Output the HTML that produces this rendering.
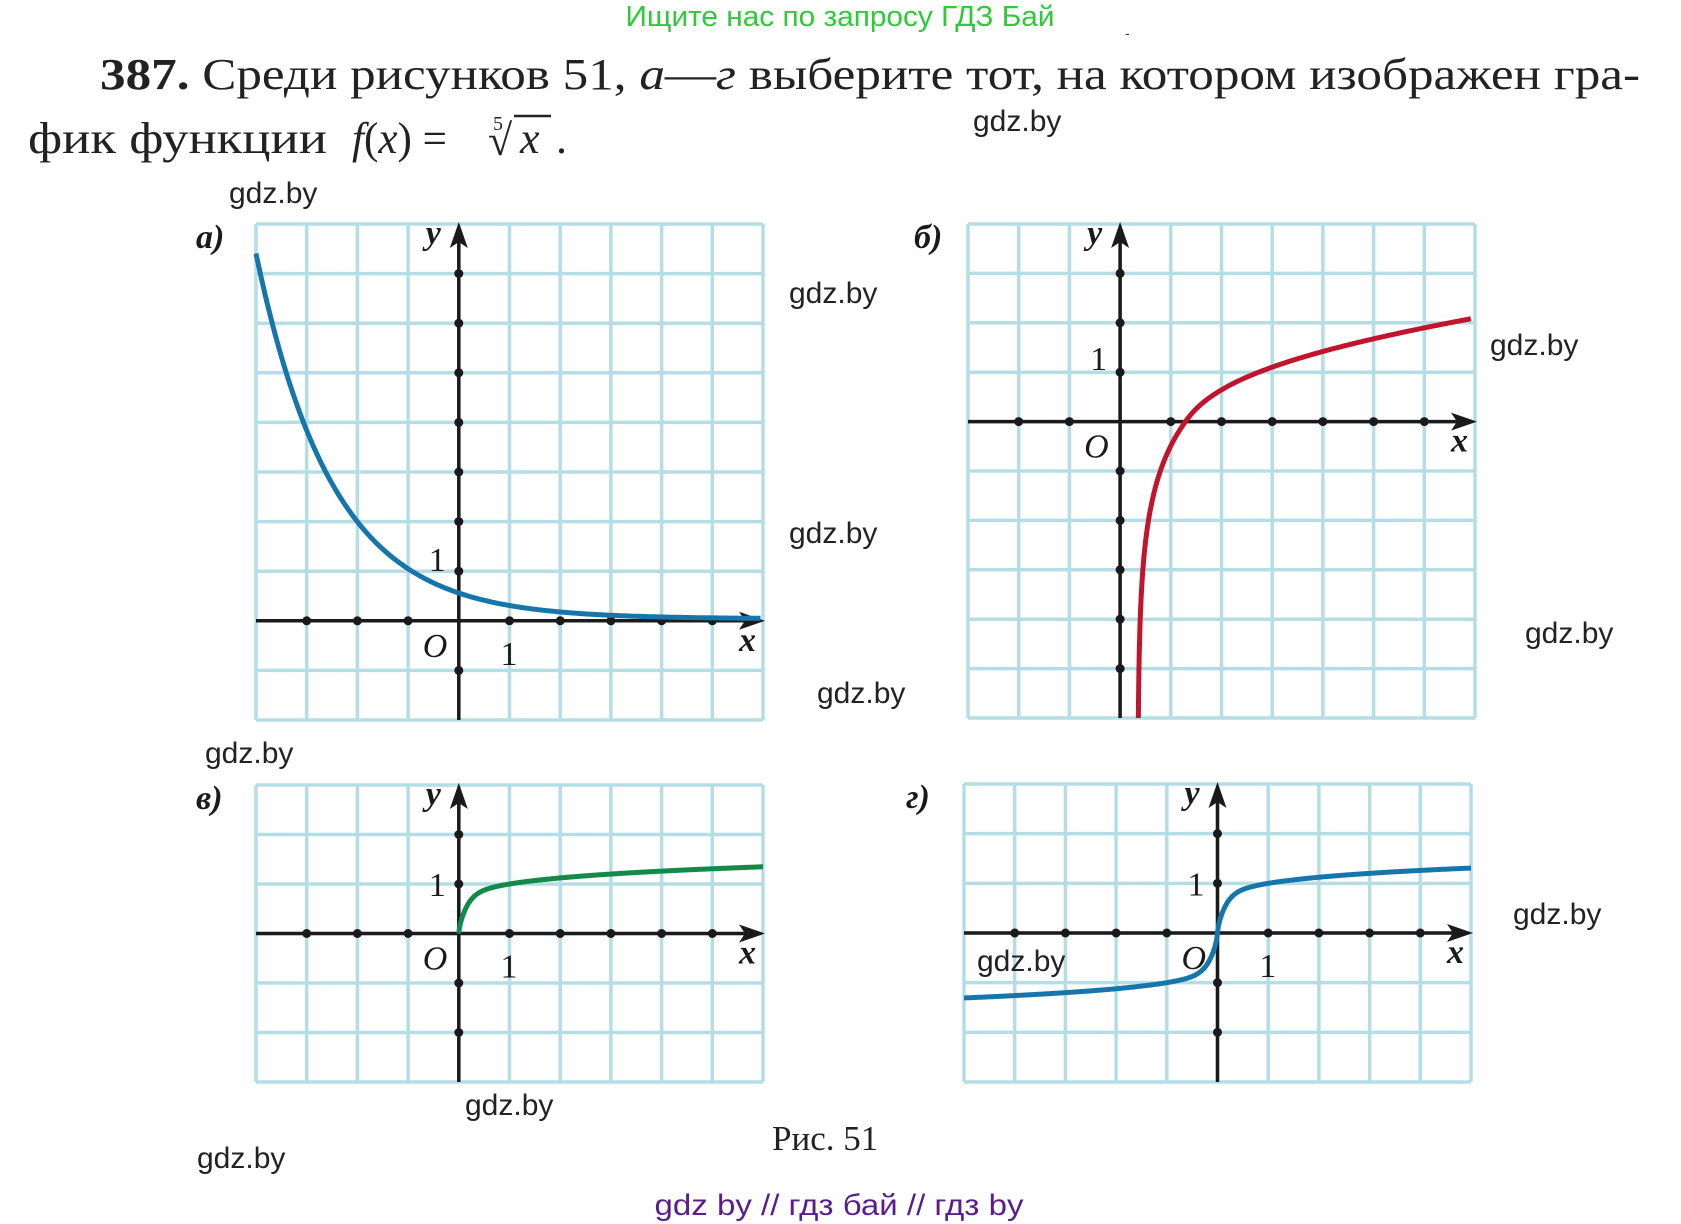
<!DOCTYPE html>
<html><head><meta charset="utf-8">
<style>
html,body{margin:0;padding:0;background:#fff;}
body{width:1681px;height:1224px;overflow:hidden;position:relative;}
svg{position:absolute;left:0;top:0;}
</style></head>
<body>
<svg id="s" width="1681" height="1224" viewBox="0 0 1681 1224" xmlns="http://www.w3.org/2000/svg">
<g font-family="Liberation Sans, sans-serif">
<text x="840" y="26" font-size="29" fill="#2fc93a" text-anchor="middle" textLength="429" lengthAdjust="spacingAndGlyphs">Ищите нас по запросу ГДЗ Бай</text>
<text x="1125" y="38" font-size="14" fill="#333">-</text>
</g>
<g font-family="Liberation Serif, serif" font-size="44" fill="#222">
<text x="100" y="89" textLength="1540" lengthAdjust="spacingAndGlyphs"><tspan font-weight="bold">387.</tspan> Среди рисунков 51, <tspan font-style="italic">а</tspan>—<tspan font-style="italic">г</tspan> выберите тот, на котором изображен гра-</text>
<text x="28" y="153" textLength="299" lengthAdjust="spacingAndGlyphs">фик функции</text>
<text x="352" y="153" textLength="95" lengthAdjust="spacingAndGlyphs"><tspan font-style="italic">f</tspan>(<tspan font-style="italic">x</tspan>) =</text>
<text x="493" y="130" font-size="20">5</text>
<text x="488" y="155">√</text>
<line x1="514" y1="116" x2="551" y2="116" stroke="#222" stroke-width="2.5"/>
<text x="520" y="153" font-style="italic">x</text>
<text x="556" y="153">.</text>
<text x="772" y="1150" font-size="35">Рис. 51</text>
</g>
<g id="charts"></g>
<g font-family="Liberation Sans, sans-serif" font-size="30" fill="#222">
<text x="229" y="203">gdz.by</text>
<text x="973" y="131">gdz.by</text>
<text x="789" y="303">gdz.by</text>
<text x="1490" y="355">gdz.by</text>
<text x="789" y="543">gdz.by</text>
<text x="1525" y="643">gdz.by</text>
<text x="817" y="703">gdz.by</text>
<text x="205" y="763">gdz.by</text>
<text x="977" y="971">gdz.by</text>
<text x="1513" y="924">gdz.by</text>
<text x="465" y="1115">gdz.by</text>
<text x="197" y="1168">gdz.by</text>
<text x="839" y="1215" fill="#5a1d8c" text-anchor="middle" textLength="369" lengthAdjust="spacingAndGlyphs">gdz by  //  гдз бай  //  гдз by</text>
</g>
</svg>
<script>
var NS="http://www.w3.org/2000/svg",G=document.getElementById('charts');
function el(t,a,txt){var e=document.createElementNS(NS,t);for(var k in a)e.setAttribute(k,a[k]);if(txt)e.textContent=txt;G.appendChild(e);return e;}
function panel(p){
 var cw=p.w/10,ch=p.h/p.rows,ox=p.x0+p.ax*cw,oy=p.y0+p.ay*ch;
 for(var i=0;i<=10;i++)el('line',{x1:p.x0+i*cw,y1:p.y0,x2:p.x0+i*cw,y2:p.y0+p.h,stroke:'#b5dde6','stroke-width':3.5});
 for(var j=0;j<=p.rows;j++)el('line',{x1:p.x0,y1:p.y0+j*ch,x2:p.x0+p.w,y2:p.y0+j*ch,stroke:'#b5dde6','stroke-width':3.5});
 el('line',{x1:p.x0,y1:oy,x2:p.x0+p.w-4,y2:oy,stroke:'#1a1a1a','stroke-width':3.5});
 el('line',{x1:ox,y1:p.y0+p.h,x2:ox,y2:p.y0+6,stroke:'#1a1a1a','stroke-width':3.5});
 var ex=p.x0+p.w+2;
 el('path',{d:'M'+ex+','+oy+' l-26,-9 l6,9 l-6,9 z',fill:'#1a1a1a'});
 el('path',{d:'M'+ox+','+(p.y0-2)+' l-9,26 l9,-6 l9,6 z',fill:'#1a1a1a'});
 for(var i=1;i<10;i++)if(i!=p.ax)el('circle',{cx:p.x0+i*cw,cy:oy,r:4.5,fill:'#1a1a1a'});
 for(var j=1;j<p.rows;j++)if(j!=p.ay)el('circle',{cx:ox,cy:p.y0+j*ch,r:4.5,fill:'#1a1a1a'});
 var pts=[];
 if(p.pts)pts=p.pts;else for(var k=0;k<=600;k++){var x=p.a+(p.b-p.a)*k/600;pts.push([x,p.f(x)]);}
 var d='M'+pts.map(function(q){return (ox+q[0]*cw).toFixed(1)+','+(oy-q[1]*ch).toFixed(1)}).join(' L');
 el('path',{d:d,fill:'none',stroke:p.c,'stroke-width':5,'stroke-linejoin':'round'});
 var T={'font-family':'Liberation Serif, serif','font-size':32,fill:'#1a1a1a'};
 function tx(x,y,s,it,b,fs){var a=Object.assign({},T,{x:x,y:y});if(it)a['font-style']='italic';if(b)a['font-weight']='bold';if(fs)a['font-size']=fs;el('text',a,s);}
 tx(ox-33,p.y0+20,'y',1,1,34);
 tx(p.x0+p.w-24,oy+30,'x',1,1,34);
 tx(ox-36,oy+36,'O',1,0,34);
 if(!p.noX)tx(ox+cw-9,oy+p.oneX,'1',0,0,34);
 tx(ox-30,oy-ch+p.oneY,'1',0,0,34);
 tx(p.x0-p.lx,p.y0+24,p.lab,1,1,34);
}
function s6(x){var a=Math.abs(x);return (x<0?-1:1)*Math.pow(a,1/6)*Math.sqrt(Math.tanh(a/0.25));}
var bp=[];
for(var k=0;k<=300;k++){var y=-6+6*k/300;bp.push([0.35+0.94*Math.exp(0.75*y),y]);}
for(var k=1;k<=300;k++){var d=5.63*k/300;bp.push([1.29+d,0.56*Math.log(1+d/0.4)+0.1*d]);}
panel({x0:256,y0:224,w:507,h:496,rows:10,ax:4,ay:8,c:'#1676ab',lab:'а)',lx:60,oneX:44,oneY:0,
 f:function(x){return 0.04+0.52*Math.pow(1.94,-x);},a:-4,b:5.95});
panel({x0:968,y0:224,w:507,h:494,rows:10,ax:3,ay:4,c:'#c0152c',lab:'б)',lx:54,oneX:44,oneY:-2,noX:1,pts:bp});
panel({x0:256,y0:785,w:507,h:297,rows:6,ax:4,ay:3,c:'#138a4a',lab:'в)',lx:60,oneX:44,oneY:12,
 f:s6,a:0,b:6});
panel({x0:964,y0:784,w:507,h:298,rows:6,ax:5,ay:3,c:'#1676ab',lab:'г)',lx:58,oneX:44,oneY:12,
 f:s6,a:-5,b:5});
</script>
</body></html>
